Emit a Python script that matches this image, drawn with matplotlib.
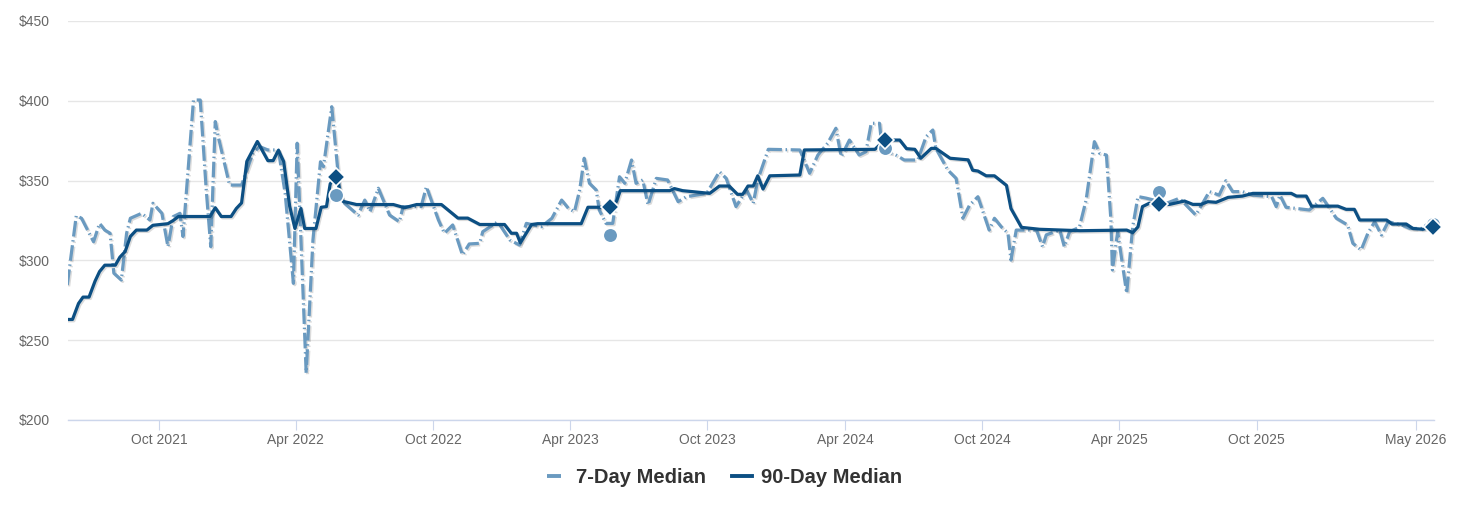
import matplotlib
matplotlib.use("Agg")
import matplotlib.pyplot as plt
import matplotlib.patheffects as pe
from matplotlib.lines import Line2D
import pandas as pd

# ---------------- data ----------------
dates_90 = ["2021-06-01","2021-06-08","2021-06-16","2021-06-22","2021-06-30","2021-07-08","2021-07-14","2021-07-21",
            "2021-08-04","2021-08-10","2021-08-17","2021-08-24","2021-09-01","2021-09-15","2021-09-23","2021-10-13",
            "2021-10-20","2021-10-27","2021-12-08","2021-12-15","2021-12-23","2022-01-05","2022-01-12","2022-01-19",
            "2022-01-26","2022-02-09","2022-02-23","2022-03-02","2022-03-09","2022-03-16","2022-03-24","2022-03-31",
            "2022-04-08","2022-04-13","2022-04-28","2022-05-05","2022-05-12","2022-05-17","2022-05-25","2022-06-03",
            "2022-06-21","2022-08-09","2022-08-24","2022-09-09","2022-10-12","2022-11-03","2022-11-16","2022-12-02",
            "2023-01-04","2023-01-13","2023-01-20","2023-01-25","2023-02-09","2023-02-17","2023-04-16","2023-04-25",
            "2023-05-11","2023-05-24","2023-06-02","2023-06-07","2023-08-12","2023-08-18","2023-08-29","2023-10-04",
            "2023-10-17","2023-10-30","2023-11-10","2023-11-17","2023-11-24","2023-12-01","2023-12-07","2023-12-14",
            "2023-12-23","2024-02-01","2024-02-07","2024-05-11","2024-05-24","2024-06-13","2024-06-22","2024-07-03",
            "2024-07-11","2024-07-25","2024-07-31","2024-08-19","2024-09-12","2024-09-18","2024-09-25","2024-10-06",
            "2024-10-17","2024-11-02","2024-11-08","2024-11-22","2024-12-16","2025-02-08","2025-04-11","2025-04-19",
            "2025-04-26","2025-05-02","2025-05-11","2025-05-24","2025-06-07","2025-06-27","2025-07-08","2025-07-19",
            "2025-07-28","2025-08-08","2025-08-24","2025-09-12","2025-09-26","2025-11-16","2025-11-23","2025-12-06",
            "2025-12-13","2026-01-17","2026-01-28","2026-02-08","2026-02-15","2026-03-23","2026-03-30","2026-04-18",
            "2026-04-27","2026-05-10","2026-05-24"]
vals_90 = [263, 263, 273, 277, 277, 287, 293, 297, 297, 302, 305.5, 315, 319, 319, 322, 323, 325, 327.5, 327.5, 333,
           327.5, 327.5, 332.5, 336, 362, 374.5, 362.5, 362.5, 369, 362, 334, 320, 332.5, 320, 320, 333.3, 333.7, 348,
           352, 337, 335, 335, 333, 335, 335, 326.5, 326.5, 322.5, 322.5, 317, 317, 311, 322.5, 323, 323, 333.3, 333.3,
           333.3, 337, 343.7, 343.7, 345, 343.7, 342, 346.6, 346.6, 341.4, 341.4, 346.6, 346.6, 353, 344.7, 353, 353.5,
           369.2, 369.6, 375.4, 375.4, 370, 369.6, 364, 370.2, 370.2, 364, 363, 356.5, 356, 353, 353, 347, 332.5, 320.7,
           319.5, 318.6, 319, 317.4, 321, 333.7, 335.8, 335.1, 335.1, 337.2, 335.1, 335.1, 336.8, 336.4, 339.5, 340.3,
           342, 342, 340.3, 340.3, 334, 334, 332, 332, 325.3, 325.3, 322.8, 322.8, 320, 319.5, 321]

dates_7 = ["2021-06-01","2021-06-13","2021-06-20","2021-07-06","2021-07-14","2021-07-21","2021-07-28","2021-08-02",
           "2021-08-12","2021-08-19","2021-08-24","2021-09-08","2021-09-19","2021-09-23","2021-10-05","2021-10-13",
           "2021-10-20","2021-10-29","2021-11-02","2021-11-16","2021-11-25","2021-12-03","2021-12-09","2021-12-15",
           "2021-12-19","2022-01-03","2022-01-19","2022-02-03","2022-02-12","2022-02-23","2022-03-09","2022-03-18",
           "2022-03-29","2022-04-03","2022-04-15","2022-04-24","2022-05-04","2022-05-08","2022-05-19","2022-05-26",
           "2022-05-30","2022-06-05","2022-06-23","2022-07-02","2022-07-09","2022-07-20","2022-08-04","2022-08-17",
           "2022-08-22","2022-09-15","2022-09-22","2022-10-08","2022-10-16","2022-10-27","2022-11-09","2022-11-18",
           "2022-12-02","2022-12-06","2022-12-26","2023-01-11","2023-01-24","2023-02-02","2023-02-22","2023-03-08",
           "2023-03-21","2023-03-30","2023-04-07","2023-04-14","2023-04-20","2023-04-27","2023-05-06","2023-05-10",
           "2023-05-19","2023-05-28","2023-06-06","2023-06-13","2023-06-22","2023-06-28","2023-07-07","2023-07-14",
           "2023-07-25","2023-08-09","2023-08-23","2023-09-03","2023-09-30","2023-10-17","2023-10-26","2023-11-08",
           "2023-11-22","2023-12-01","2023-12-07","2023-12-21","2024-02-01","2024-02-14","2024-02-25","2024-03-09",
           "2024-03-20","2024-03-27","2024-04-07","2024-04-20","2024-04-29","2024-05-06","2024-05-17","2024-05-21",
           "2024-06-04","2024-06-19","2024-07-07","2024-07-18","2024-07-27","2024-07-31","2024-08-16","2024-08-27",
           "2024-09-05","2024-09-14","2024-09-25","2024-10-10","2024-10-17","2024-10-26","2024-11-04","2024-11-08",
           "2024-11-15","2024-12-12","2024-12-20","2024-12-25","2025-01-12","2025-01-18","2025-01-25","2025-02-07",
           "2025-02-16","2025-02-27","2025-03-06","2025-03-15","2025-03-21","2025-03-23","2025-03-30","2025-04-11",
           "2025-04-19","2025-04-26","2025-05-07","2025-06-03","2025-06-20","2025-06-29","2025-07-12","2025-07-21",
           "2025-07-30","2025-08-12","2025-08-21","2025-08-30","2025-09-12","2025-09-26","2025-10-21","2025-10-27",
           "2025-11-01","2025-11-09","2025-12-10","2025-12-28","2026-01-15","2026-01-30","2026-02-06","2026-02-17",
           "2026-02-26","2026-03-07","2026-03-16","2026-03-25","2026-04-12","2026-04-23","2026-05-10","2026-05-24"]
vals_7 = [284.6, 328, 326.4, 311.7, 323.2, 319, 317, 292, 287.7, 317, 326.4, 329.5, 325.3, 335.8, 329.5, 308.6,
          327.4, 329.5, 315, 400.5, 400.5, 344, 308.6, 387, 377.5, 347.2, 347.2, 367.1, 371.3, 369.2, 369.2, 342,
          285.6, 373.4, 229.3, 312.8, 361.8, 358.7, 396.3, 361.8, 342, 335.8, 328.4, 337.8, 330.5, 345.2, 328.4, 324.2,
          333.7, 333.7, 346.2, 325.3, 317, 322.2, 303.4, 310.3, 310.7, 318, 324.2, 312.8, 309.6, 323.2, 321.1, 326.4,
          337.8, 332.6, 330.5, 344.1, 364, 348.3, 344.1, 331.6, 323.2, 323.2, 352.4, 348.3, 362.9, 348.3, 350.4, 334.7,
          351.4, 350.4, 336.8, 339.9, 342, 355.6, 351.4, 333.7, 344.1, 335.8, 350.4, 369.6, 369.2, 354.6, 366, 373.4,
          382.8, 365, 375.4, 366, 368.1, 385.9, 385.9, 368.1, 367.1, 362.9, 362.9, 377.5, 381.7, 370.2, 356.6, 351.4,
          326.4, 334.7, 339.9, 319, 326.4, 321.1, 317, 300.2, 319, 319, 308.6, 316, 319, 308.6, 318, 320.7,
          337.8, 374.4, 367.1, 366, 325.3, 294, 318, 279.4, 321, 340, 339, 335.8, 338.9, 334.7, 328.4, 335.8,
          343.1, 340.9, 349.9, 343.1, 343.1, 340.9, 339.9, 333.7, 340.9, 333.3, 331.6, 338.9, 326.4, 322.2, 310.7, 306.5,
          317, 324.2, 315.9, 324.2, 322.2, 320, 320, 326.4]

# yearly highlighted points
mark_dates = ["2022-05-25", "2023-05-24", "2024-05-24", "2025-05-24", "2026-05-24"]
mark_7 = [341, 316, 370.5, 343, 323]
mark_90 = [352, 333.3, 375.4, 335.1, 321]

y_ticks = [200, 250, 300, 350, 400, 450]
x_tick_dates = ["2021-10-01", "2022-04-01", "2022-10-01", "2023-04-01", "2023-10-01",
                "2024-04-01", "2024-10-01", "2025-04-01", "2025-10-01", "2026-05-01"]
x_tick_labels = ["Oct 2021", "Apr 2022", "Oct 2022", "Apr 2023", "Oct 2023",
                 "Apr 2024", "Oct 2024", "Apr 2025", "Oct 2025", "May 2026"]
series_names = ["7-Day Median", "90-Day Median"]

# ---------------- style ----------------
C7 = "#6a9ac0"
C90 = "#0c4f83"
plt.rcParams["font.family"] = ["Liberation Sans", "DejaVu Sans"]

W, H = 1458, 505
fig = plt.figure(figsize=(W / 100, H / 100), dpi=100)
ax = fig.add_axes([68 / W, 1 - 420 / H, (1434 - 68) / W, (420 - 21) / H])

shadow = [pe.SimpleLineShadow(offset=(1, -1), shadow_color="black", alpha=0.14), pe.Normal()]

ax.plot(pd.to_datetime(dates_7), vals_7, color=C7, lw=2.3,
        linestyle=(0, (4.9, 1.15, 0.45, 1.15)), path_effects=shadow, zorder=3)
ax.plot(pd.to_datetime(dates_90), vals_90, color=C90, lw=2.3,
        solid_joinstyle="round", path_effects=shadow, zorder=4)
ax.plot(pd.to_datetime(mark_dates), mark_7, linestyle="none", marker="o", ms=10.5,
        mfc=C7, mec="white", mew=1.2, zorder=5, clip_on=False)
ax.plot(pd.to_datetime(mark_dates), mark_90, linestyle="none", marker="D", ms=9,
        mfc=C90, mec="white", mew=1.2, zorder=6, clip_on=False)

ax.set_ylim(200, 450)
ax.set_xlim(pd.Timestamp("2021-06-02"), pd.Timestamp("2026-05-25"))
ax.set_yticks(y_ticks)
ax.set_yticklabels([f"${v}" for v in y_ticks])
ax.set_xticks(pd.to_datetime(x_tick_dates))
ax.set_xticklabels(x_tick_labels)

ax.yaxis.grid(True, color="#e6e6e6", lw=1.0)
ax.set_axisbelow(True)
for s in ["left", "right", "top"]:
    ax.spines[s].set_visible(False)
ax.spines["bottom"].set_color("#ccd6eb")
ax.spines["bottom"].set_linewidth(1.0)
ax.spines["bottom"].set_zorder(2)

ax.tick_params(axis="x", length=7.5, width=0.8, color="#ccd6eb", labelcolor="#666666",
               labelsize=10, pad=2)
ax.tick_params(axis="y", length=0, pad=13, labelcolor="#666666", labelsize=10)

handles = [Line2D([], [], color=C7, lw=2.8, linestyle=(0, (3.6, 30))),
           Line2D([], [], color=C90, lw=2.8)]
fig.legend(handles=handles, labels=series_names, loc="center", bbox_to_anchor=(0.497, 0.055),
           ncol=2, frameon=False, prop={"weight": "bold", "size": 14.5}, labelcolor="#333333",
           handlelength=1.0, handletextpad=0.45, columnspacing=1.3, borderpad=0)

fig.savefig("out.png", dpi=100)
